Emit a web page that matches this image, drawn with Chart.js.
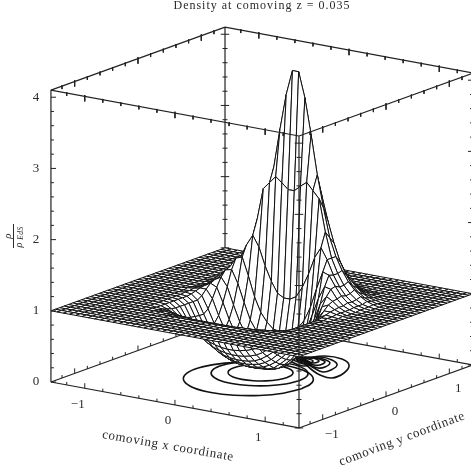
<!DOCTYPE html>
<html>
<head>
<meta charset="utf-8">
<title>Density at comoving z = 0.035</title>
<script src="https://cdn.jsdelivr.net/npm/chart.js@4"></script>
<style>
  html, body { margin: 0; padding: 0; background: #fff; }
  canvas { display: block; }
</style>
</head>
<body>
<canvas id="chart-density" width="471" height="470"></canvas>
<script>
const titleText = "Density at comoving z = 0.035";
const xAxisLabel = "comoving x coordinate";
const yAxisLabel = "comoving y coordinate";
const axisLimit = 1.375;
const zLimit = 4.1;
const xyTickLabels = [-1, 0, 1];
const zTickLabels = [0, 1, 2, 3, 4];
const xyTicks = [-1.2, -1, -0.8, -0.6, -0.4, -0.2, 0, 0.2, 0.4, 0.6, 0.8, 1, 1.2];
const zTicks = [0, 0.2, 0.4, 0.6, 0.8, 1, 1.2, 1.4, 1.6, 1.8, 2, 2.2, 2.4, 2.6, 2.8, 3, 3.2, 3.4, 3.6, 3.8, 4];

// mesh is 41x41, flat at 1 outside the table. table holds rows 8..34,
// each row going out from the x centre line (left and right taken the same)
const gridSize = 41;
const flatDensity = 1;
const firstRow = 8;
const densityRows = [
  [0.98, 0.98, 0.98, 0.98, 0.99, 0.99, 0.99, 0.99, 1, 1, 1, 1, 1, 1],
  [0.92, 0.92, 0.93, 0.94, 0.95, 0.96, 0.97, 0.98, 0.99, 0.99, 1, 1, 1, 1],
  [0.81, 0.81, 0.82, 0.84, 0.86, 0.89, 0.92, 0.95, 0.97, 0.98, 0.99, 1, 1, 1],
  [0.67, 0.67, 0.68, 0.7, 0.74, 0.78, 0.83, 0.88, 0.92, 0.96, 0.99, 1, 1, 1],
  [0.52, 0.53, 0.55, 0.58, 0.62, 0.68, 0.74, 0.81, 0.87, 0.94, 0.99, 1, 1, 1],
  [0.42, 0.43, 0.45, 0.48, 0.53, 0.6, 0.67, 0.75, 0.83, 0.93, 0.99, 1, 1, 1],
  [0.33, 0.34, 0.36, 0.4, 0.46, 0.53, 0.61, 0.7, 0.79, 0.93, 0.99, 1, 1, 1],
  [0.26, 0.27, 0.29, 0.33, 0.39, 0.47, 0.55, 0.64, 0.77, 0.93, 0.99, 1, 1, 1],
  [0.2, 0.21, 0.23, 0.27, 0.33, 0.41, 0.5, 0.6, 0.76, 0.93, 0.99, 1, 1, 1],
  [0.16, 0.17, 0.18, 0.21, 0.28, 0.36, 0.47, 0.58, 0.75, 0.93, 0.99, 1, 1, 1],
  [0.13, 0.14, 0.15, 0.18, 0.25, 0.33, 0.44, 0.57, 0.75, 0.93, 1, 1.01, 1, 1],
  [0.11, 0.12, 0.14, 0.18, 0.24, 0.33, 0.46, 0.61, 0.8, 0.97, 1.02, 1.01, 1, 1],
  [0.1, 0.11, 0.14, 0.18, 0.26, 0.37, 0.52, 0.7, 0.92, 1.04, 1.04, 1.02, 1.01, 1],
  [0.13, 0.14, 0.17, 0.23, 0.33, 0.46, 0.64, 0.86, 1.06, 1.1, 1.05, 1.02, 1, 1],
  [0.19, 0.2, 0.25, 0.33, 0.44, 0.6, 0.82, 1.06, 1.18, 1.13, 1.06, 1.02, 1, 1],
  [0.3, 0.32, 0.38, 0.48, 0.62, 0.85, 1.1, 1.28, 1.26, 1.14, 1.06, 1.02, 1, 1],
  [0.5, 0.52, 0.6, 0.72, 0.92, 1.2, 1.45, 1.42, 1.28, 1.16, 1.08, 1.03, 1.01, 1],
  [0.95, 1, 1.15, 1.35, 1.6, 1.75, 1.6, 1.4, 1.25, 1.14, 1.07, 1.03, 1.01, 1],
  [2.45, 2.53, 2.6, 2.5, 2.4, 1.95, 1.6, 1.4, 1.25, 1.15, 1.08, 1.03, 1.01, 1],
  [4.1, 3.75, 3.25, 2.7, 2.25, 1.85, 1.6, 1.42, 1.28, 1.18, 1.1, 1.05, 1.02, 1],
  [3.2, 3, 2.7, 2.4, 2.05, 1.75, 1.5, 1.33, 1.2, 1.12, 1.06, 1.03, 1.01, 1],
  [2.5, 2.4, 2.2, 2, 1.75, 1.52, 1.36, 1.24, 1.15, 1.08, 1.04, 1.02, 1, 1],
  [1.95, 1.88, 1.75, 1.6, 1.45, 1.32, 1.22, 1.14, 1.08, 1.04, 1.02, 1.01, 1, 1],
  [1.55, 1.5, 1.42, 1.33, 1.24, 1.17, 1.11, 1.07, 1.04, 1.02, 1.01, 1, 1, 1],
  [1.28, 1.26, 1.22, 1.17, 1.12, 1.08, 1.05, 1.03, 1.02, 1.01, 1, 1, 1, 1],
  [1.12, 1.11, 1.09, 1.07, 1.05, 1.03, 1.02, 1.01, 1, 1, 1, 1, 1, 1],
  [1.04, 1.04, 1.03, 1.02, 1.02, 1.01, 1.01, 1, 1, 1, 1, 1, 1, 1],
];

// contours on the floor, [x, y] in comoving coordinates
const voidContours = [
  [[0.6, -0.23], [0.555, -0.004], [0.427, 0.187], [0.236, 0.315], [0.01, 0.36], [-0.216, 0.315], [-0.407, 0.187], [-0.535, -0.004], [-0.58, -0.23], [-0.535, -0.456], [-0.407, -0.647], [-0.216, -0.775], [0.01, -0.82], [0.236, -0.775], [0.427, -0.647], [0.555, -0.456]],
  [[0.42, -0.01], [0.387, 0.158], [0.291, 0.301], [0.148, 0.397], [-0.02, 0.43], [-0.188, 0.397], [-0.331, 0.301], [-0.427, 0.158], [-0.46, -0.01], [-0.427, -0.178], [-0.331, -0.321], [-0.188, -0.417], [-0.02, -0.45], [0.148, -0.417], [0.291, -0.321], [0.387, -0.178]],
  [[0.266, 0.018], [0.244, 0.131], [0.18, 0.227], [0.084, 0.291], [-0.029, 0.313], [-0.142, 0.291], [-0.238, 0.227], [-0.302, 0.131], [-0.324, 0.018], [-0.302, -0.095], [-0.238, -0.191], [-0.142, -0.255], [-0.029, -0.277], [0.084, -0.255], [0.18, -0.191], [0.244, -0.095]],
];
const peakContours = [
  [[0.009, 0.683], [0.107, 0.843], [0.292, 0.847], [0.466, 0.711], [0.591, 0.453], [0.604, 0.245], [0.455, 0.267], [0.296, 0.369], [0.122, 0.504], [-0.017, 0.577]],
  [[0.021, 0.649], [0.091, 0.787], [0.239, 0.765], [0.378, 0.647], [0.435, 0.47], [0.417, 0.369], [0.27, 0.437], [0.11, 0.538], [-0.01, 0.583]],
  [[0.001, 0.678], [0.096, 0.748], [0.195, 0.732], [0.285, 0.667], [0.33, 0.525], [0.299, 0.459], [0.18, 0.503], [0.048, 0.58], [-0.045, 0.601]],
  [[-0.011, 0.712], [0.082, 0.737], [0.166, 0.711], [0.229, 0.669], [0.253, 0.556], [0.209, 0.524], [0.097, 0.573], [-0.015, 0.622]],
  [[-0.055, 0.68], [0.053, 0.716], [0.165, 0.666], [0.168, 0.581], [0.07, 0.596], [-0.065, 0.63]],
  [[-0.135, 0.666], [0.001, 0.678], [0.121, 0.634], [0.13, 0.509], [0.031, 0.525], [-0.109, 0.598]],
  [[-0.065, 0.63], [0.049, 0.625], [0.166, 0.536], [0.149, 0.436], [0.022, 0.474], [-0.123, 0.587]],
];

// view of the box, comoving coordinates -> picture
function project(x, y, z) {
  return {
    x: 262 + 90.2 * x + 63.3 * y,
    y: 373.5 + 16.7 * x - 22.9 * y - 71.2 * z,
  };
}

function densityAt(i, j) {
  const row = densityRows[j - firstRow];
  const k = i >= 21 ? i - 21 : 20 - i;
  if (!row || k >= row.length) return flatDensity;
  return row[k];
}

function meshPoint(i, j) {
  const step = (2 * axisLimit) / (gridSize - 1);
  return project(-axisLimit + i * step, -axisLimit + j * step, densityAt(i, j));
}

const GAP = { x: NaN, y: NaN };

function lineSet(data, width, color) {
  return {
    data,
    showLine: true,
    fill: false,
    borderColor: color,
    borderWidth: width,
    pointRadius: 0,
    tension: 0,
    clip: false,
  };
}

function segments(list) {
  const pts = [];
  list.forEach((s) => pts.push(s[0], s[1], GAP));
  return pts;
}

// ticks sit on an edge, offset in picture units
function edgeTicks(values, at, before, after) {
  const out = [];
  values.forEach((v) => {
    const p = at(v);
    const major = Number.isInteger(v);
    out.push([
      { x: p.x + before.x * (major ? 1.7 : 1), y: p.y + before.y * (major ? 1.7 : 1) },
      { x: p.x + after.x * (major ? 1.7 : 1), y: p.y + after.y * (major ? 1.7 : 1) },
    ]);
  });
  return out;
}

const L = axisLimit;
const corner = {
  left: [-L, -L],
  front: [L, -L],
  right: [L, L],
  back: [-L, L],
};
const pt = (c, z) => project(corner[c][0], corner[c][1], z);

const frontLines = segments([
  [pt("left", 0), pt("left", zLimit)],
  [pt("front", 0), pt("front", zLimit)],
  [pt("right", 0), pt("right", zLimit)],
  [pt("left", 0), pt("front", 0)],
  [pt("front", 0), pt("right", 0)],
  [pt("left", zLimit), pt("front", zLimit)],
  [pt("front", zLimit), pt("right", zLimit)],
]);
const backLines = segments([
  [pt("back", 0), pt("back", zLimit)],
  [pt("left", 0), pt("back", 0)],
  [pt("back", 0), pt("right", 0)],
  [pt("left", zLimit), pt("back", zLimit)],
  [pt("back", zLimit), pt("right", zLimit)],
]);

const up = { x: 0, y: -3 };
const none = { x: 0, y: 0 };
const frontTicks = segments([
  ...edgeTicks(zTicks, (z) => pt("left", z), none, { x: 3, y: 0 }),
  ...edgeTicks(zTicks, (z) => pt("front", z), { x: -2.5, y: 0 }, { x: 2.5, y: 0 }),
  ...edgeTicks(zTicks, (z) => pt("right", z), none, { x: -3, y: 0 }),
  ...edgeTicks(xyTicks, (x) => project(x, -L, 0), none, up),
  ...edgeTicks(xyTicks, (y) => project(L, y, 0), none, up),
  ...edgeTicks(xyTicks, (x) => project(x, -L, zLimit), { x: 0, y: -0.8 }, { x: 0, y: 3 }),
  ...edgeTicks(xyTicks, (y) => project(L, y, zLimit), { x: 0, y: -0.8 }, { x: 0, y: 3 }),
]);
const backTicks = segments([
  ...edgeTicks(zTicks, (z) => pt("back", z), { x: -2.5, y: 0 }, { x: 2.5, y: 0 }),
  ...edgeTicks(xyTicks, (x) => project(x, L, 0), none, up),
  ...edgeTicks(xyTicks, (y) => project(-L, y, 0), none, up),
  ...edgeTicks(xyTicks, (x) => project(x, L, zLimit), { x: 0, y: -0.8 }, { x: 0, y: 3 }),
  ...edgeTicks(xyTicks, (y) => project(-L, y, zLimit), { x: 0, y: -0.8 }, { x: 0, y: 3 }),
]);

const axisColor = "#222";
const meshColor = "#111";
const datasets = [];

// chart.js paints the first dataset last, so nearest things go in first
datasets.push(lineSet(frontLines, 1.2, axisColor));
datasets.push(lineSet(frontTicks, 1, axisColor));

for (let j = 0; j < gridSize - 1; j++) {
  for (let i = gridSize - 2; i >= 0; i--) {
    const a = meshPoint(i, j);
    const quad = [a, meshPoint(i + 1, j), meshPoint(i + 1, j + 1), meshPoint(i, j + 1), a];
    const set = lineSet(quad, 1, meshColor);
    set.fill = "shape";
    set.backgroundColor = "#fff";
    datasets.push(set);
  }
}

[...voidContours, ...peakContours].forEach((c) => {
  const closed = [...c, c[0]].map((p) => project(p[0], p[1], 0));
  const set = lineSet(closed, 1.6, "#111");
  set.tension = 0.4;
  datasets.push(set);
});

datasets.push(lineSet(backLines, 1.2, axisColor));
datasets.push(lineSet(backTicks, 1, axisColor));

const serif = '"Liberation Serif", serif';

const textPlugin = {
  id: "boxText",
  afterDraw(chart) {
    const ctx = chart.ctx;
    const put = (text, x, y, size, angle, spacing, style) => {
      ctx.save();
      ctx.translate(x, y);
      ctx.rotate(((angle || 0) * Math.PI) / 180);
      ctx.font = (style ? style + " " : "") + size + "px " + serif;
      ctx.letterSpacing = (spacing || 0) + "px";
      ctx.fillStyle = "#2a2a2a";
      ctx.textAlign = "center";
      ctx.textBaseline = "middle";
      ctx.fillText(text, 0, 0);
      ctx.restore();
    };
    const num = (v) => (v < 0 ? "\u2212" + -v : String(v));

    put(titleText, 262, 6, 12, 0, 1);

    zTickLabels.forEach((z) => {
      const p = pt("left", z);
      put(num(z), p.x - 15, p.y, 13);
    });
    xyTickLabels.forEach((x) => {
      const p = project(x, -L, 0);
      put(num(x), p.x - 7, p.y + 16, 13);
    });
    xyTickLabels.forEach((y) => {
      const p = project(L, y, 0);
      put(num(y), p.x + 9, p.y + 15.5, 13);
    });

    put(xAxisLabel, 168, 446, 13, 9.8, 0.65);
    put(yAxisLabel, 402, 439, 13, -20.6, 0.65);

    // rho / rho_EdS, turned on its side
    put("\u03C1", 8, 236, 11, -90, 0, "italic");
    put("\u03C1", 19, 245, 10, -90, 0, "italic");
    put("EdS", 21, 233, 7.5, -90, 0.4, "italic");
    ctx.fillStyle = "#2a2a2a";
    ctx.fillRect(13, 224, 1, 24);
  },
};

new Chart(document.getElementById("chart-density"), {
  type: "scatter",
  data: { datasets },
  options: {
    responsive: false,
    animation: false,
    events: [],
    layout: { padding: 0 },
    plugins: {
      legend: { display: false },
      title: { display: false },
      tooltip: { enabled: false },
      filler: { drawTime: "beforeDatasetDraw", propagate: false },
    },
    scales: {
      x: { type: "linear", display: false, min: 0, max: 471 },
      y: { type: "linear", display: false, min: 0, max: 470, reverse: true },
    },
  },
  plugins: [textPlugin],
});
</script>
</body>
</html>
